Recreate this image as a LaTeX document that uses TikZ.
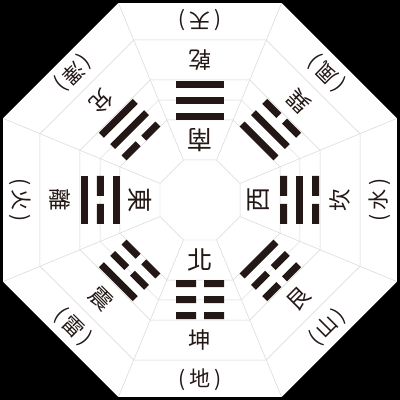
\documentclass[tikz,border=0pt]{standalone}
\usepackage{fontspec}
\newfontfamily\cjk{Noto Sans CJK TC}
\definecolor{ink}{RGB}{35,24,21}
\definecolor{web}{RGB}{215,215,215}
\tikzset{
  fang/.style={font=\cjk\fontsize{18}{18}\selectfont, text=ink, inner sep=0pt},
  guaming/.style={font=\cjk\fontsize{16}{16}\selectfont, text=ink, inner sep=0pt},
  xiang/.style={font=\cjk\fontsize{15}{15}\selectfont, text=ink, inner sep=0pt},
  webline/.style={draw=web, line width=0.35pt},
}
% one line of a trigram: angle of the sector, inner radius
\newcommand{\yangbar}[2]{\fill[ink, rotate=#1+90] (-24,-#2) rectangle (24,-#2-7);}
\newcommand{\yinbar}[2]{\fill[ink, rotate=#1+90] (-24,-#2) rectangle (-4,-#2-7) (4,-#2) rectangle (24,-#2-7);}
\begin{document}
\begin{tikzpicture}[x=0.025cm, y=0.025cm]
            \fill[black] (-200,-200) rectangle (200,200);
            \useasboundingbox (-200,-200) rectangle (200,200);
            
            \fill[white] (22.5:213.2) \foreach \a in {67.5,112.5,...,337.5} { -- (\a:213.2) } -- cycle;
            \foreach \r in {43.3,86.6,108.2,129.9,173.2} {
                \draw[webline] (22.5:\r) \foreach \a in {67.5,112.5,...,337.5} { -- (\a:\r) } -- cycle;
            }
            \foreach \a in {22.5,67.5,...,337.5} {
                \draw[webline] (\a:43.3) -- (\a:213.2);
            }
            
            % south, top
            \node (nan) [fang, rotate=180] at (90:60) {南};
            \node (qian) [guaming, rotate=180] at (90:140) {乾};
            \node (tian) [xiang, rotate=180] at (90:180) {(\,天\,)};
            \yangbar{90}{80} \yangbar{90}{96} \yangbar{90}{112}
            
            % top right
            \node (xun) [guaming, rotate=135] at (45:140) {巽};
            \node (feng) [xiang, rotate=135] at (45:180) {(\,風\,)};
            \yangbar{45}{80} \yangbar{45}{96} \yinbar{45}{112}
            
            % west, right
            \node (xi) [fang, rotate=90] at (0:59) {西};
            \node (kan) [guaming, rotate=90] at (0:140) {坎};
            \node (shui) [xiang, rotate=90] at (0:180) {(\,水\,)};
            \yinbar{0}{80} \yangbar{0}{96} \yinbar{0}{112}
            
            % bottom right
            \node (gen) [guaming, rotate=45] at (-45:140) {艮};
            \node (shan) [xiang, rotate=45] at (-45:180) {(\,山\,)};
            \yangbar{-45}{80} \yinbar{-45}{96} \yinbar{-45}{112}
            
            % north, bottom
            \node (bei) [fang] at (-90:60) {北};
            \node (kun) [guaming] at (-90:140) {坤};
            \node (di) [xiang] at (-90:180) {(\,地\,)};
            \yinbar{-90}{80} \yinbar{-90}{96} \yinbar{-90}{112}
            
            % bottom left
            \node (zhen) [guaming, rotate=-45] at (-135:140) {震};
            \node (lei) [xiang, rotate=-45] at (-135:180) {(\,雷\,)};
            \yinbar{-135}{80} \yinbar{-135}{96} \yangbar{-135}{112}
            
            % east, left
            \node (dong) [fang, rotate=-90] at (180:60) {東};
            \node (li) [guaming, rotate=-90] at (180:140) {離};
            \node (huo) [xiang, rotate=-90] at (180:180) {(\,火\,)};
            \yangbar{180}{80} \yinbar{180}{96} \yangbar{180}{112}
            
            % top left
            \node (dui) [guaming, rotate=-135] at (135:140) {兌};
            \node (ze) [xiang, rotate=-135] at (135:180) {(\,澤\,)};
            \yinbar{135}{80} \yangbar{135}{96} \yangbar{135}{112}
\end{tikzpicture}
\end{document}
